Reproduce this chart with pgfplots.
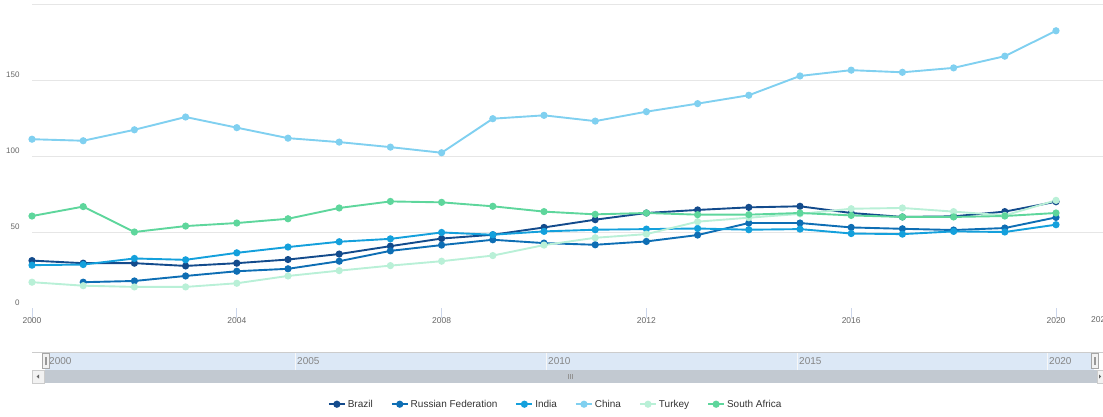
\documentclass[border=0pt]{standalone}
\usepackage{fontspec}
\setmainfont{Liberation Sans}
\usepackage{pgfplots}
\usepackage{pgfplotstable}
\pgfplotsset{compat=1.18}

\definecolor{cBrazil}{HTML}{134B8C}
\definecolor{cRussia}{HTML}{0E6EB4}
\definecolor{cIndia}{HTML}{14A0DC}
\definecolor{cChina}{HTML}{80D0F0}
\definecolor{cTurkey}{HTML}{B9F0D7}
\definecolor{cSAfrica}{HTML}{5ED69C}
\definecolor{gridgray}{HTML}{E6E6E6}
\definecolor{labelgray}{HTML}{666666}
\definecolor{legendtext}{HTML}{333333}
\definecolor{tickblue}{HTML}{CCD6EB}
\definecolor{navblue}{HTML}{DCE8F6}
\definecolor{navline}{HTML}{CCCCCC}
\definecolor{scrollgray}{HTML}{C2C9D1}
\definecolor{btnfill}{HTML}{F2F2F2}

% values per year (nan = no data)
\pgfplotstableread{
year Brazil Russia India China Turkey SAfrica
2000 31.3 nan  28.3 111.1 17.1 60.6
2001 29.6 17.1 28.7 110.1 14.8 66.8
2002 29.6 17.9 32.7 117.3 14.0 50.1
2003 27.8 21.2 31.8 125.7 14.0 54.0
2004 29.6 24.3 36.4 118.7 16.4 56.0
2005 32.0 25.9 40.2 111.8 21.2 58.8
2006 35.6 30.9 43.7 109.2 24.7 65.9
2007 40.8 37.7 45.6 105.9 28.0 70.2
2008 45.8 41.5 49.8 102.2 30.9 69.6
2009 48.3 45.0 48.3 124.6 34.6 67.0
2010 53.1 42.8 50.5 126.8 41.5 63.5
2011 58.2 41.7 51.6 123.0 46.3 61.7
2012 62.6 43.9 52.0 129.2 48.7 62.6
2013 64.6 48.1 52.4 134.5 56.9 61.5
2014 66.3 56.0 51.6 140.0 59.5 61.5
2015 67.0 56.0 52.0 152.7 62.0 62.6
2016 62.6 53.1 49.1 156.5 65.4 61.0
2017 60.0 52.2 48.7 155.1 65.9 60.0
2018 60.4 51.4 50.5 158.0 63.5 60.0
2019 63.5 52.7 50.1 165.7 61.0 60.6
2020 70.0 59.7 54.9 182.4 70.9 62.6
}\datatable

\begin{document}
\begin{tikzpicture}
\useasboundingbox (0pt,0pt) rectangle (1103pt,416pt);

\begin{scope}[x=1pt,y=1pt]
% navigator band
\fill[navblue] (45,46) rectangle (1094,63);
\foreach \gx in {295,546,797,1047} \draw[white!85!navline, line width=0.6pt] (\gx,46) -- (\gx,63);
\draw[navline, line width=0.8pt] (32,63.3) -- (1103,63.3);
\foreach \gx/\lab in {295/2005,546/2010,797/2015,1047/2020}
  \node[anchor=west, inner sep=1pt, font=\fontsize{10}{12}\selectfont, text=labelgray!80] at (\gx+1,54.5) {\lab};
\node[anchor=west, inner sep=1pt, font=\fontsize{10}{12}\selectfont, text=labelgray!80] at (48,54.5) {2000};
% scrollbar
\fill[scrollgray] (32,33) rectangle (1103,46);
\filldraw[fill=btnfill, draw=navline, line width=0.6pt] (32,33) rectangle (44,46);
\filldraw[fill=btnfill, draw=navline, line width=0.6pt] (1097,33) rectangle (1103.5,46);
\fill[labelgray] (36.5,39.5) -- (39,41.5) -- (39,37.5) -- cycle;
\fill[labelgray] (1101,39.5) -- (1099,41.5) -- (1099,37.5) -- cycle;
\foreach \gx in {568,570,572} \draw[labelgray!70, line width=0.6pt] (\gx,37) -- (\gx,42);
% handles
\foreach \hx in {42,1091} {
  \filldraw[fill=btnfill, draw=gray!70, line width=0.6pt] (\hx,48) rectangle (\hx+7,63);
  \draw[gray!80, line width=0.5pt] (\hx+2.8,51.5) -- (\hx+2.8,59.5);
  \draw[gray!80, line width=0.5pt] (\hx+4.2,51.5) -- (\hx+4.2,59.5);
}
% tick label cut by the right edge, as in the source
\node[font=\fontsize{8.5}{10}\selectfont, text=labelgray] at (1100.5,96) {2021};
\end{scope}

\begin{axis}[
  at={(32pt,107.8pt)}, anchor=south west,
  scale only axis, width=1071pt, height=304.2pt,
  xmin=2000, xmax=2020.918, ymin=0, ymax=200,
  axis line style={draw=none},
  /pgf/number format/1000 sep={},
  /pgf/number format/assume math mode=true,
  xtick={2000,2004,...,2020}, xtick pos=bottom,
  tick align=outside, major tick length=10pt,
  xtick style={draw=tickblue, line width=0.8pt},
  xticklabel style={font=\fontsize{8.5}{10}\selectfont, text=labelgray, yshift=4pt},
  ytick={50,100,150,200}, yticklabels={50,100,150,{}},
  extra y ticks={0}, extra y tick style={grid=none},
  ytick style={draw=none},
  yticklabel style={font=\fontsize{8}{10}\selectfont, text=labelgray, anchor=east, yshift=5.5pt, xshift=1pt},
  ymajorgrids, grid style={gridgray, line width=0.8pt},
  every axis plot/.append style={line width=1.9pt, mark=*, mark size=2.6pt, mark options={draw=none}},
  legend columns=6,
  legend style={at={(0.489,-0.3156)}, anchor=center, draw=none, fill=none,
    font=\fontsize{10}{12}\selectfont, text=legendtext,
    /tikz/every even column/.append style={column sep=16pt}},
  legend image code/.code={\draw[mark repeat=2, mark phase=2, #1, line width=1.9pt] plot coordinates {(0pt,0pt) (8pt,0pt) (16pt,0pt)};},
]
\addplot[color=cBrazil, mark options={fill=cBrazil}] table[x=year, y=Brazil] {\datatable};
\addlegendentry{Brazil}
\addplot[color=cRussia, mark options={fill=cRussia}] table[x=year, y=Russia] {\datatable};
\addlegendentry{Russian Federation}
\addplot[color=cIndia, mark options={fill=cIndia}] table[x=year, y=India] {\datatable};
\addlegendentry{India}
\addplot[color=cChina, mark options={fill=cChina}] table[x=year, y=China] {\datatable};
\addlegendentry{China}
\addplot[color=cTurkey, mark options={fill=cTurkey}] table[x=year, y=Turkey] {\datatable};
\addlegendentry{Turkey}
\addplot[color=cSAfrica, mark options={fill=cSAfrica}] table[x=year, y=SAfrica] {\datatable};
\addlegendentry{South Africa}
\end{axis}
\end{tikzpicture}
\end{document}
